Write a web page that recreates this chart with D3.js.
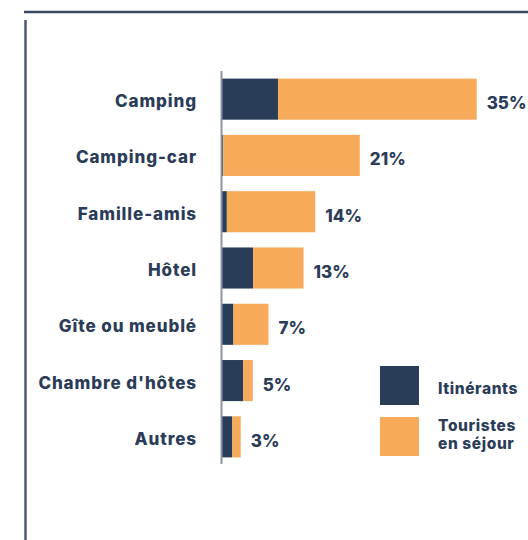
<!DOCTYPE html>
<html lang="fr">
<head>
<meta charset="utf-8">
<title>Hébergement</title>
<style>
  body { margin: 0; background: #fff; }
  svg text { font-family: Inter, "DejaVu Sans", sans-serif; font-weight: 800; fill: #2a3c58; }
</style>
</head>
<body>
<div id="chart"></div>
<script src="https://cdn.jsdelivr.net/npm/d3@7"></script>
<script>
var categories = ["Camping", "Camping-car", "Famille-amis", "Hôtel", "Gîte ou meublé", "Chambre d'hôtes", "Autres"];
var itinerants = [7.8, 0.3, 0.8, 4.4, 1.7, 3.05, 1.55];
var touristes = [27.2, 18.7, 12.1, 6.9, 4.8, 1.3, 1.15];
var totalLabels = ["35%", "21%", "14%", "13%", "7%", "5%", "3%"];
var seriesNames = ["Itinérants", "Touristes\nen séjour"];
var colors = ["#293d59", "#f6aa5a"];

var width = 528, height = 540;

var svg = d3.select("#chart").append("svg")
    .attr("width", width)
    .attr("height", height);

// frame lines
svg.append("line")
    .attr("x1", 24).attr("x2", width)
    .attr("y1", 12).attr("y2", 12)
    .attr("stroke", "#3a4a64").attr("stroke-width", 2.5);
svg.append("line")
    .attr("x1", 25.5).attr("x2", 25.5)
    .attr("y1", 20).attr("y2", height)
    .attr("stroke", "#4a5870").attr("stroke-width", 2.5);

var y = d3.scaleBand()
    .domain(categories)
    .range([71, 465])
    .paddingInner(0.27)
    .paddingOuter(0.135);

var x = d3.scaleLinear()
    .domain([0, 35])
    .range([221, 476.7]);

var rows = categories.map(function(c, i) {
  return { cat: c, it: itinerants[i], to: touristes[i], label: totalLabels[i] };
});

var stack = d3.stack().keys(["it", "to"]);
var layers = stack(rows);

svg.selectAll(".layer")
  .data(layers)
  .enter().append("g")
    .attr("class", "layer")
    .attr("fill", function(d, i) { return colors[i]; })
  .selectAll("rect")
  .data(function(d) { return d; })
  .enter().append("rect")
    .attr("x", function(d) { return x(d[0]); })
    .attr("width", function(d) { return x(d[1]) - x(d[0]); })
    .attr("y", function(d) { return y(d.data.cat); })
    .attr("height", y.bandwidth());

// axis line
svg.append("line")
    .attr("x1", 221.5).attr("x2", 221.5)
    .attr("y1", 71).attr("y2", 464)
    .attr("stroke", "#8a94a3").attr("stroke-width", 2);

// category labels
svg.selectAll(".cat")
  .data(rows)
  .enter().append("text")
    .attr("class", "cat")
    .attr("x", 197)
    .attr("y", function(d) { return y(d.cat) + y.bandwidth() / 2 + 8; })
    .attr("text-anchor", "end")
    .style("font-size", "17px")
    .style("letter-spacing", "0.9px")
    .text(function(d) { return d.cat; });

// total labels
svg.selectAll(".val")
  .data(rows)
  .enter().append("text")
    .attr("class", "val")
    .attr("x", function(d) { return x(d.it + d.to) + 10; })
    .attr("y", function(d) { return y(d.cat) + y.bandwidth() / 2 + 10; })
    .style("font-size", "17px")
    .text(function(d) { return d.label; });

// legend
var legend = svg.selectAll(".legend")
  .data(seriesNames)
  .enter().append("g")
    .attr("class", "legend")
    .attr("transform", function(d, i) { return "translate(380," + (366 + i * 51) + ")"; });

legend.append("rect")
    .attr("width", 39)
    .attr("height", 39)
    .attr("fill", function(d, i) { return colors[i]; });

legend.each(function(name, i) {
  var lines = name.split("\n");
  d3.select(this).selectAll("text")
    .data(lines)
    .enter().append("text")
      .attr("x", 58)
      .attr("y", function(d, j) { return lines.length === 1 ? 28 : 14 + j * 18; })
      .style("font-size", "15.5px")
      .style("letter-spacing", "0.6px")
      .text(function(d) { return d; });
});
</script>
</body>
</html>
